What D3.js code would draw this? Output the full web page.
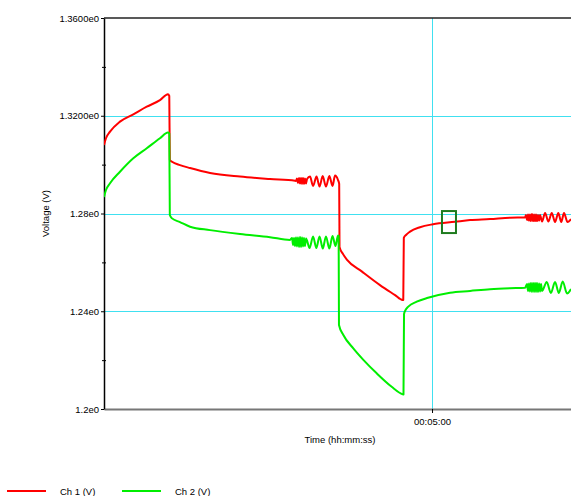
<!DOCTYPE html>
<html>
<head>
<meta charset="utf-8">
<script src="https://cdn.jsdelivr.net/npm/d3@7/dist/d3.min.js"></script>
<style>
  html, body { margin: 0; padding: 0; background: #fff; }
  svg text { font-family: "Liberation Sans", Arial, sans-serif; fill: #000; }
</style>
</head>
<body>
<svg id="chart" width="571" height="496"></svg>
<script>
// ---------- DATA ----------
const seriesNames = ["Ch 1 (V)", "Ch 2 (V)"];
const seriesColors = ["#ff0000", "#00ee00"];

const voltTicks = [1.36, 1.32, 1.28, 1.24, 1.20];
const voltTickLabels = ["1.3600e0", "1.3200e0", "1.28e0", "1.24e0", "1.2e0"];
const voltMinorTicks = [1.34, 1.30, 1.26, 1.22];
const voltGrid = [1.32, 1.28, 1.24];
const timeTicks = [300];
const timeTickLabels = ["00:05:00"];
const timeGrid = [300];
const timeDomain = [0, 427.1];
const voltDomain = [1.20, 1.36];

// cursor marker (time s, volts)
const markerTime = 315.5;
const markerVolt = 1.2765;

// Ch 1 (seconds, volts)
const ch1Time = [0, 1.8, 5.5, 14.6, 26.8, 39.1, 51.2, 58.5, 59.7, 60.2, 62.2, 69.5, 78.7, 97.0, 124.4, 151.8, 174.7,
  175.6, 176.5, 177.4, 178.4, 179.3, 180.2, 181.1, 182.0, 182.9, 183.8, 184.8, 185.7,
  188.4, 191.2, 194.4, 197.1, 200.0, 203.0, 206.1, 209.0, 211.3, 214.0, 215.1, 215.4,
  218.6, 222.3, 236.0, 252.4, 266.2, 273.0, 273.7, 274.2, 276.2, 279.9, 289.0, 300.9, 321.0, 334.8, 353.1, 371.3, 385.1,
  385.9, 386.9, 387.8, 388.7, 389.6, 390.5, 391.4, 392.4, 393.3, 394.2, 395.1, 396.0, 396.9, 397.9, 398.8,
  400.6, 403.4, 406.4, 409.5, 412.5, 415.5, 418.2, 420.7, 423.9, 427.1];
const ch1Volt = [1.3080, 1.3108, 1.3135, 1.3176, 1.3206, 1.3237, 1.3264, 1.3288, 1.3281, 1.3019, 1.3012, 1.2998, 1.2986, 1.2966, 1.2951, 1.2941, 1.2934,
  1.2933, 1.2943, 1.2925, 1.2945, 1.2923, 1.2945, 1.2921, 1.2945, 1.2921, 1.2943, 1.2923, 1.2941,
  1.2951, 1.2913, 1.2951, 1.2910, 1.2953, 1.2910, 1.2953, 1.2913, 1.2955, 1.2937, 1.2921, 1.2663,
  1.2634, 1.2610, 1.2562, 1.2507, 1.2466, 1.2446, 1.2446, 1.2700, 1.2712, 1.2726, 1.2744, 1.2756, 1.2766, 1.2773, 1.2777, 1.2783, 1.2784,
  1.2794, 1.2773, 1.2796, 1.2771, 1.2796, 1.2769, 1.2798, 1.2769, 1.2796, 1.2769, 1.2796, 1.2769, 1.2794, 1.2771, 1.2794,
  1.2767, 1.2802, 1.2767, 1.2802, 1.2765, 1.2802, 1.2765, 1.2802, 1.2765, 1.2777];

// Ch 2 (seconds, volts)
const ch2Time = [0, 1.8, 5.5, 14.6, 26.8, 39.1, 51.2, 58.5, 59.7, 60.2, 62.2, 69.5, 78.7, 97.0, 124.4, 151.8, 170.1,
  172.0, 172.9, 173.8, 174.7, 175.6, 176.5, 177.4, 178.4, 179.3, 180.2, 181.1, 182.0, 182.9, 183.8, 184.8,
  188.0, 191.2, 194.2, 197.1, 200.1, 203.0, 206.1, 209.0, 211.7, 214.0, 214.6, 214.9,
  218.9, 228.0, 237.2, 249.4, 263.1, 273.2, 273.9, 274.4, 275.8, 278.3, 286.0, 296.3, 316.5, 334.8, 353.1, 371.3, 385.1,
  386.9, 387.8, 388.7, 389.6, 390.5, 391.4, 392.4, 393.3, 394.2, 395.1, 396.0, 396.9, 397.9, 398.8, 399.7, 400.6,
  404.9, 408.7, 412.5, 416.0, 419.5, 423.5, 427.1];
const ch2Volt = [1.2868, 1.2896, 1.2924, 1.2971, 1.3026, 1.3067, 1.3108, 1.3131, 1.3127, 1.2794, 1.2780, 1.2765, 1.2746, 1.2732, 1.2716, 1.2703, 1.2692,
  1.2700, 1.2671, 1.2700, 1.2667, 1.2702, 1.2665, 1.2702, 1.2663, 1.2704, 1.2663, 1.2702, 1.2665, 1.2700, 1.2667, 1.2698,
  1.2659, 1.2706, 1.2659, 1.2706, 1.2657, 1.2706, 1.2657, 1.2708, 1.2667, 1.2710, 1.2708, 1.2344,
  1.2303, 1.2248, 1.2201, 1.2146, 1.2091, 1.2060, 1.2059, 1.2389, 1.2405, 1.2419, 1.2439, 1.2455, 1.2476, 1.2483, 1.2490, 1.2494, 1.2496,
  1.2512, 1.2483, 1.2514, 1.2481, 1.2516, 1.2479, 1.2516, 1.2479, 1.2516, 1.2479, 1.2516, 1.2479, 1.2514, 1.2481, 1.2512, 1.2483,
  1.2520, 1.2475, 1.2520, 1.2475, 1.2522, 1.2473, 1.2491];

// ---------- LAYOUT ----------
const plot = { left: 104, right: 571, top: 18, bottom: 409 };
const svg = d3.select("#chart");

const x = d3.scaleLinear().domain(timeDomain).range([plot.left, plot.right]);
const y = d3.scaleLinear().domain(voltDomain).range([plot.bottom, plot.top]);

// gridlines
svg.append("g").selectAll("line").data(voltGrid).join("line")
  .attr("x1", plot.left).attr("x2", plot.right)
  .attr("y1", d => Math.round(y(d)) + 0.5).attr("y2", d => Math.round(y(d)) + 0.5)
  .attr("stroke", "#40e0f0").attr("stroke-width", 1);
svg.append("g").selectAll("line").data(timeGrid).join("line")
  .attr("x1", d => Math.round(x(d)) + 0.5).attr("x2", d => Math.round(x(d)) + 0.5)
  .attr("y1", plot.top).attr("y2", plot.bottom)
  .attr("stroke", "#40e0f0").attr("stroke-width", 1);

// top border
svg.append("line")
  .attr("x1", plot.left).attr("x2", plot.right)
  .attr("y1", plot.top).attr("y2", plot.top)
  .attr("stroke", "#222").attr("stroke-width", 1.5);

// bottom axis
const xAxis = d3.axisBottom(x).tickValues(timeTicks)
  .tickFormat((d, i) => timeTickLabels[i]).tickSize(4).tickSizeOuter(0);
const gx = svg.append("g").attr("transform", `translate(0,${plot.bottom})`).call(xAxis);
gx.select(".domain").attr("stroke", "#777").attr("stroke-width", 2);
gx.selectAll(".tick line").attr("stroke", "#000");
gx.selectAll(".tick text").attr("font-size", "9.5px").attr("dy", "0.95em")
  .style("font-family", '"Liberation Sans", Arial, sans-serif');

// left axis
const yAxis = d3.axisLeft(y).tickValues(voltTicks)
  .tickFormat((d, i) => voltTickLabels[i]).tickSize(3).tickSizeOuter(0).tickPadding(2);
const gy = svg.append("g").attr("transform", `translate(${plot.left},0)`).call(yAxis);
gy.select(".domain").attr("stroke", "#000").attr("stroke-width", 1.5);
gy.selectAll(".tick line").attr("stroke", "#000");
gy.selectAll(".tick text").attr("font-size", "9.5px")
  .style("font-family", '"Liberation Sans", Arial, sans-serif');

// minor ticks (crossing)
const yMinor = d3.axisLeft(y).tickValues(voltMinorTicks).tickFormat("").tickSize(4).tickSizeOuter(0);
const gym = svg.append("g").attr("transform", `translate(${plot.left + 2},0)`).call(yMinor);
gym.select(".domain").remove();
gym.selectAll(".tick line").attr("stroke", "#000");

// axis titles
svg.append("text")
  .attr("transform", `translate(49,${(plot.top + plot.bottom) / 2}) rotate(-90)`)
  .attr("text-anchor", "middle").attr("font-size", "9.5px").text("Voltage (V)");
svg.append("text")
  .attr("x", 340).attr("y", 443)
  .attr("text-anchor", "middle").attr("font-size", "9.5px").text("Time (hh:mm:ss)");

// series lines
const line = d3.line().x(d => x(d[0])).y(d => y(d[1])).curve(d3.curveMonotoneX);
const series = [
  d3.zip(ch1Time, ch1Volt),
  d3.zip(ch2Time, ch2Volt)
];
svg.append("defs").append("clipPath").attr("id", "clip")
  .append("rect").attr("x", plot.left).attr("y", plot.top)
  .attr("width", plot.right - plot.left).attr("height", plot.bottom - plot.top);
svg.append("g").attr("clip-path", "url(#clip)")
  .selectAll("path").data(series).join("path")
  .attr("d", line)
  .attr("fill", "none")
  .attr("stroke", (d, i) => seriesColors[i])
  .attr("stroke-width", 2)
  .attr("stroke-linejoin", "round");

// cursor marker
svg.append("rect")
  .attr("x", x(markerTime) - 7).attr("y", y(markerVolt) - 11)
  .attr("width", 14).attr("height", 22)
  .attr("fill", "none").attr("stroke", "#1e7b1e").attr("stroke-width", 2);

// legend
const legend = svg.append("g").selectAll("g").data(seriesNames).join("g")
  .attr("transform", (d, i) => `translate(${7 + i * 115},491)`);
legend.append("line").attr("x1", 0).attr("x2", 39).attr("y1", 0).attr("y2", 0)
  .attr("stroke", (d, i) => seriesColors[i]).attr("stroke-width", 2);
legend.append("text").attr("x", 53).attr("y", 3.5).attr("font-size", "9.5px").text(d => d);
</script>
</body>
</html>
